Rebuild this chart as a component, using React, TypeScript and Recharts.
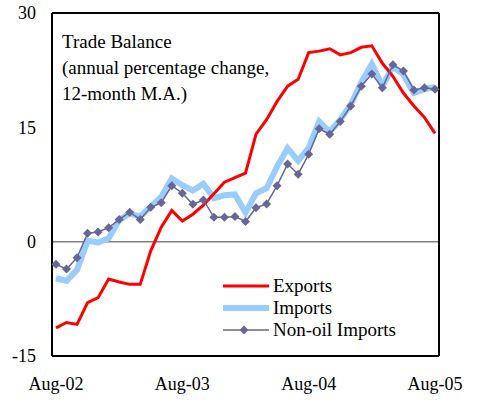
import React from "react";
import {
  Legend,
  Line,
  LineChart,
  ReferenceLine,
  XAxis,
  YAxis
} from "recharts";

const months = [
  "Aug-02", "Sep-02", "Oct-02", "Nov-02", "Dec-02", "Jan-03", "Feb-03", "Mar-03",
  "Apr-03", "May-03", "Jun-03", "Jul-03", "Aug-03", "Sep-03", "Oct-03", "Nov-03",
  "Dec-03", "Jan-04", "Feb-04", "Mar-04", "Apr-04", "May-04", "Jun-04", "Jul-04",
  "Aug-04", "Sep-04", "Oct-04", "Nov-04", "Dec-04", "Jan-05", "Feb-05", "Mar-05",
  "Apr-05", "May-05", "Jun-05", "Jul-05", "Aug-05"
];

const exportsPct = [
  -11.3, -10.6, -10.85, -8.0, -7.35, -4.9, -5.3, -5.6, -5.6, -1.2, 1.9, 4.1, 2.7,
  3.6, 4.8, 6.3, 7.8, 8.4, 9.0, 14.1, 16.0, 18.4, 20.4, 21.3, 24.8, 25.0, 25.3,
  24.5, 24.8, 25.5, 25.7, 23.4, 21.7, 19.5, 17.8, 16.3, 14.2
];

const importsPct = [
  -4.8, -5.15, -3.7, 0.1, -0.1, 0.45, 2.85, 3.7, 3.3, 4.6, 5.9, 8.3, 7.4, 6.7,
  7.6, 5.7, 6.1, 6.2, 3.8, 6.35, 7.0, 9.85, 12.25, 10.6, 12.3, 15.75, 14.4, 16.0,
  18.0, 20.9, 23.3, 20.4, 23.0, 21.9, 19.5, 20.0, 20.3
];

const nonOilPct = [
  -2.97, -3.6, -2.1, 1.1, 1.27, 1.84, 2.9, 3.86, 2.9, 4.5, 5.1, 7.35, 6.35, 4.9,
  5.47, 3.2, 3.2, 3.3, 2.65, 4.46, 4.95, 7.35, 10.2, 8.85, 11.47, 14.8, 14.1,
  15.75, 17.8, 20.4, 22.0, 20.2, 23.2, 22.4, 19.9, 20.2, 20.0
];

const yTicks = [-15, 0, 15, 30];

const data = months.map((m, i) => ({
  month: m,
  exports: exportsPct[i],
  imports: importsPct[i],
  nonOil: nonOilPct[i]
}));

const FONT = '"Liberation Serif", "Times New Roman", serif';
const RED = "#ff0000";
const BLUE = "#99ccff";
const NAVY = "#666699";

const Diamond = (props: any) => {
  const { cx, cy, index } = props;
  if (cx == null || cy == null) return <g key={index} />;
  const r = 4.5;
  return (
    <polygon
      key={index}
      points={`${cx},${cy - r} ${cx + r},${cy} ${cx},${cy + r} ${cx - r},${cy}`}
      fill={NAVY}
    />
  );
};

const legendRows = [
  { label: "Exports", color: RED, width: 3, marker: false },
  { label: "Imports", color: BLUE, width: 6, marker: false },
  { label: "Non-oil Imports", color: NAVY, width: 1.5, marker: true }
];

const LegendBox = () => (
  <div style={{ fontFamily: FONT, fontSize: 19 }}>
    {legendRows.map((r) => (
      <div
        key={r.label}
        style={{ display: "flex", alignItems: "center", height: 22 }}
      >
        <svg width={46} height={22}>
          <line x1={0} y1={11} x2={46} y2={11} stroke={r.color} strokeWidth={r.width} />
          {r.marker && (
            <polygon points="21,6.5 25.5,11 21,15.5 16.5,11" fill={NAVY} />
          )}
        </svg>
        <span style={{ marginLeft: 4, lineHeight: "22px", whiteSpace: "nowrap" }}>
          {r.label}
        </span>
      </div>
    ))}
  </div>
);

export default function App() {
  return (
    <div
      style={{
        position: "absolute",
        left: 0,
        top: 0,
        width: 481,
        height: 402,
        background: "#fff"
      }}
    >
      <LineChart
        width={481}
        height={402}
        data={data}
        margin={{ top: 13, right: 0, bottom: 0, left: 0 }}
      >
        <XAxis
          dataKey="month"
          interval={11}
          padding={{ left: 4, right: 4 }}
          height={46}
          axisLine={{ stroke: "#000", strokeWidth: 2 }}
          tickLine={false}
          tickMargin={15}
          tick={{ fontFamily: FONT, fontSize: 18, fill: "#000" }}
        />
        <YAxis
          yAxisId="left"
          domain={[-15, 30]}
          ticks={yTicks}
          width={52}
          axisLine={{ stroke: "#000", strokeWidth: 2 }}
          tickLine={false}
          tickMargin={10}
          tick={{ fontFamily: FONT, fontSize: 18, fill: "#000" }}
        />
        <YAxis
          yAxisId="right"
          orientation="right"
          domain={[-15, 30]}
          ticks={yTicks}
          width={42}
          axisLine={{ stroke: "#000", strokeWidth: 2 }}
          tickLine={false}
          tickMargin={11}
          tick={{ fontFamily: FONT, fontSize: 18, fill: "#000" }}
        />
        <ReferenceLine yAxisId="left" y={30} stroke="#000" strokeWidth={2} />
        <ReferenceLine yAxisId="left" y={0} stroke="#808080" strokeWidth={1.5} />
        <Line
          yAxisId="left"
          type="linear"
          dataKey="imports"
          stroke={BLUE}
          strokeWidth={6}
          dot={false}
          isAnimationActive={false}
        />
        <Line
          yAxisId="left"
          type="linear"
          dataKey="exports"
          stroke={RED}
          strokeWidth={3}
          dot={false}
          isAnimationActive={false}
        />
        <Line
          yAxisId="left"
          type="linear"
          dataKey="nonOil"
          stroke={NAVY}
          strokeWidth={1.5}
          dot={<Diamond />}
          isAnimationActive={false}
        />
        <Legend
          layout="vertical"
          align="center"
          verticalAlign="middle"
          content={<LegendBox />}
          wrapperStyle={{ left: 223, top: 275, width: "auto" }}
        />
      </LineChart>
      <div
        style={{
          position: "absolute",
          left: 62,
          top: 29,
          fontFamily: FONT,
          fontSize: 19,
          lineHeight: "26px",
          color: "#000",
          pointerEvents: "none"
        }}
      >
        Trade Balance
        <br />
        (annual percentage change,
        <br />
        12-month M.A.)
      </div>
    </div>
  );
}
